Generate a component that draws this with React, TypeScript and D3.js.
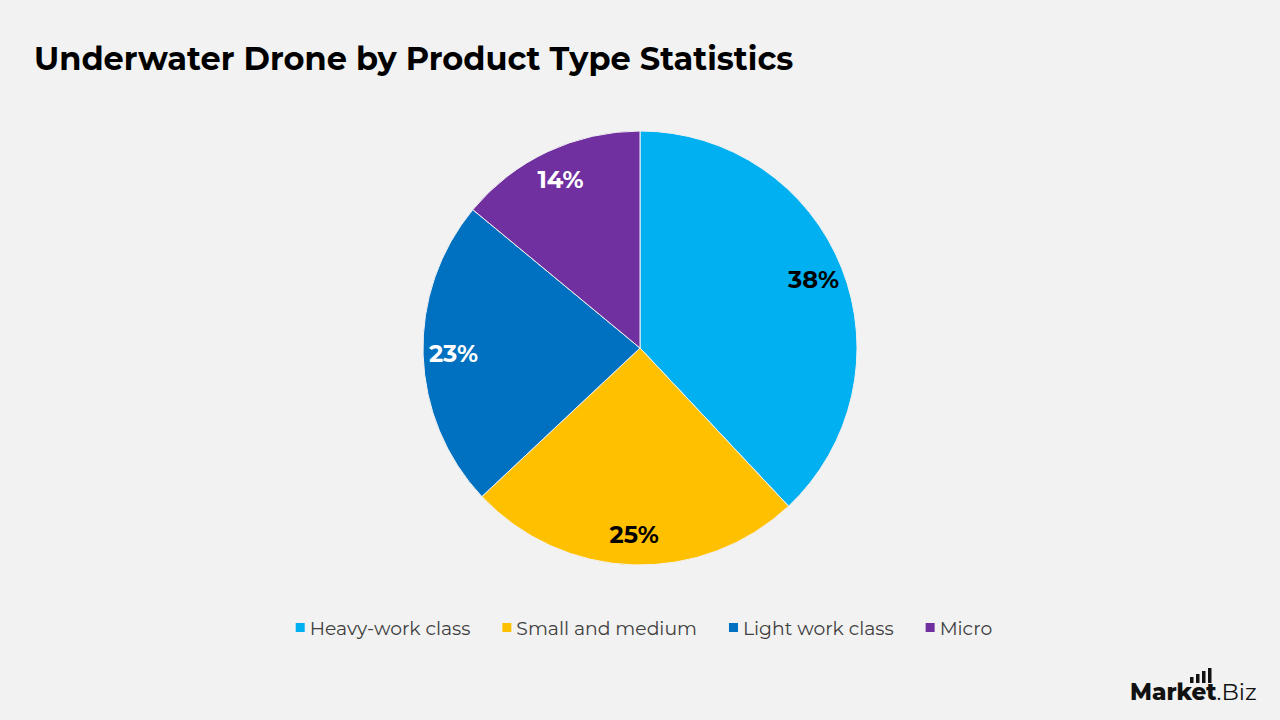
import React, { useEffect, useRef } from "react";
import * as d3 from "d3";

const categories = ["Heavy-work class", "Small and medium", "Light work class", "Micro"];
const shares = [38, 25, 23, 14];
const colors = ["#00B0F0", "#FFC000", "#0070C0", "#7030A0"];
const labelColors = ["#000000", "#000000", "#FFFFFF", "#FFFFFF"];

const W = 1280;
const H = 720;
const FONT = "Montserrat, Inter, 'Open Sans', sans-serif";

export default function App() {
  const ref = useRef<SVGSVGElement>(null);

  useEffect(() => {
    document.body.style.margin = "0";
    const svg = d3.select(ref.current);
    svg.selectAll("*").remove();

    svg.append("rect").attr("width", W).attr("height", H).attr("fill", "#F2F2F2");

    svg.append("text")
      .attr("x", 34).attr("y", 70)
      .attr("font-family", FONT).attr("font-weight", 700).attr("font-size", 32)
      .attr("fill", "#000")
      .text("Underwater Drone by Product Type Statistics");

    const cx = 640, cy = 348, r = 217;
    const data = categories.map((c, i) => ({ name: c, value: shares[i], i }));
    const pie = d3.pie<any>().value(d => d.value).sort(null);
    const arc = d3.arc<any>().innerRadius(0).outerRadius(r);
    const labelArc = d3.arc<any>().innerRadius(r * 0.86).outerRadius(r * 0.86);

    const g = svg.append("g").attr("transform", `translate(${cx},${cy})`);
    const arcs = pie(data);
    g.selectAll("path").data(arcs).enter().append("path")
      .attr("d", arc)
      .attr("fill", d => colors[d.data.i])
      .attr("stroke", "#F2F2F2").attr("stroke-width", 1);

    g.selectAll("text.lbl").data(arcs).enter().append("text")
      .attr("class", "lbl")
      .attr("transform", d => `translate(${labelArc.centroid(d)})`)
      .attr("text-anchor", "middle").attr("dy", "0.35em")
      .attr("font-family", FONT).attr("font-weight", 700).attr("font-size", 24)
      .attr("fill", d => labelColors[d.data.i])
      .text(d => `${d.data.value}%`);

    // legend
    const leg = svg.append("g");
    let x = 0;
    const gap = 32;
    categories.forEach((c, i) => {
      const item = leg.append("g").attr("transform", `translate(${x},0)`);
      item.append("rect").attr("x", 0).attr("y", -5).attr("width", 9).attr("height", 9).attr("fill", colors[i]);
      const t = item.append("text")
        .attr("x", 14).attr("y", 0).attr("dy", "0.35em")
        .attr("font-family", FONT).attr("font-size", 18.8).attr("fill", "#404040")
        .text(c);
      const w = (t.node() as SVGTextElement).getComputedTextLength();
      x += 14 + w + gap;
    });
    const total = x - gap;
    leg.attr("transform", `translate(${(W - total) / 2 + 4},628)`);

    // logo
    const logo = svg.append("g").attr("transform", "translate(1130,700)");
    const lt = logo.append("text")
      .attr("font-family", FONT).attr("font-size", 23).attr("fill", "#111");
    lt.append("tspan").attr("font-weight", 800).text("Market");
    lt.append("tspan").attr("font-weight", 400).text(".Biz");
    const bars = [6, 9, 12, 15];
    bars.forEach((h, i) => {
      logo.append("rect").attr("x", 60 + i * 6).attr("y", -17 - h).attr("width", 3.5).attr("height", h).attr("fill", "#111");
    });
  }, []);

  return <svg ref={ref} width={W} height={H} style={{ display: "block" }} />;
}
